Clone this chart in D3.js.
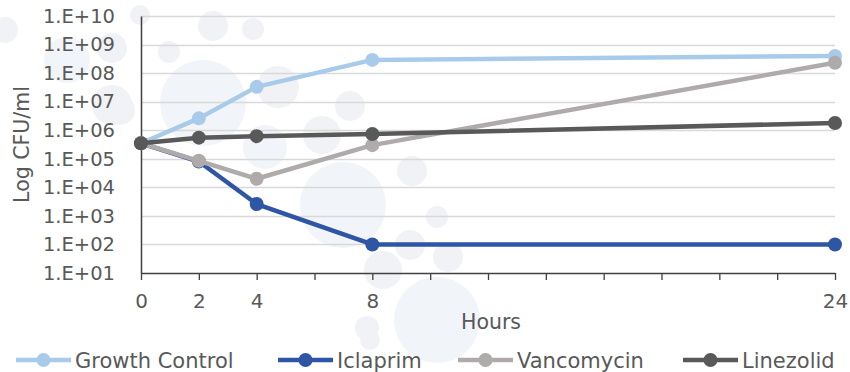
<!DOCTYPE html>
<html>
<head>
<meta charset="utf-8">
<script src="https://cdn.jsdelivr.net/npm/d3@7"></script>
<style>
  html, body { margin: 0; padding: 0; background: #fff; }
  svg { display: block; font-family: "DejaVu Sans", sans-serif; }
</style>
</head>
<body>
<svg id="chart" width="850" height="372"></svg>
<script>
// ---- data ----
const hours = [0, 2, 4, 8, 24];
const growthControl = [3.5e5, 2.6e6, 3.3e7, 2.9e8, 4.0e8];
const iclaprim      = [3.5e5, 8.0e4, 2.6e3, 1.0e2, 1.0e2];
const vancomycin    = [3.5e5, 8.5e4, 2.0e4, 3.0e5, 2.3e8];
const linezolid     = [3.5e5, 5.5e5, 6.2e5, 7.4e5, 1.8e6];
const seriesNames   = ["Growth Control", "Iclaprim", "Vancomycin", "Linezolid"];
const seriesColors  = ["#A9CBEA", "#2F55A5", "#AFABAB", "#595959"];
const yTickValues   = [1e1, 1e2, 1e3, 1e4, 1e5, 1e6, 1e7, 1e8, 1e9, 1e10];
const yTickLabels   = ["1.E+01","1.E+02","1.E+03","1.E+04","1.E+05","1.E+06","1.E+07","1.E+08","1.E+09","1.E+10"];
const xMinorTicks   = [0, 2, 4, 6, 8, 10, 12, 14, 16, 18, 20, 22, 24];
const xLabelTicks   = [0, 2, 4, 8, 24];
// decorative background bubbles [cx, cy, r, tone]
const bubbles = [
  [5,30,13,0],[67,60,23,1],[112,48,15,0],[112,105,20,0],[140,15,10,0],[120,110,15,0],
  [213,26,15,0],[253,29,11,0],[169,52,11,0],[203,103,43,1],[278,87,21,0],[350,106,15,0],
  [265,147,22,1],[322,135,19,0],[412,171,15,0],[343,205,43,1],[437,217,11,0],
  [410,245,15,0],[383,270,19,0],[448,257,15,0],[367,328,12,0],[437,320,43,1],[370,340,10,0]
];

const series = seriesNames.map((name, i) => ({
  name, color: seriesColors[i],
  values: [growthControl, iclaprim, vancomycin, linezolid][i].map((v, j) => ({x: hours[j], y: v}))
}));

const svg = d3.select("#chart");
const margin = {left: 141, right: 15, top: 16, bottom: 99};
const W = 850, H = 372;

// background bubbles
svg.append("g").selectAll("circle").data(bubbles).join("circle")
  .attr("cx", d => d[0]).attr("cy", d => d[1]).attr("r", d => d[2])
  .attr("fill", d => d[3] ? "#F1F4F8" : "#F1F2F5");

const x = d3.scaleLinear().domain([0, 24]).range([margin.left, W - margin.right]);
const y = d3.scaleLog().domain([1e1, 1e10]).range([H - margin.bottom, margin.top]);

// gridlines
svg.append("g").selectAll("line").data(yTickValues.slice(1)).join("line")
  .attr("x1", x(0)).attr("x2", x(24))
  .attr("y1", d => Math.round(y(d)) + 0.5).attr("y2", d => Math.round(y(d)) + 0.5)
  .attr("stroke", "#D9D9D9").attr("stroke-width", 1.3);

// y axis
const yAxis = d3.axisLeft(y).tickValues(yTickValues)
  .tickFormat((d, i) => yTickLabels[i]).tickSize(0).tickPadding(26);
const gy = svg.append("g").attr("transform", `translate(${x(0)},0)`).call(yAxis);
gy.select(".domain").attr("stroke", "#404040").attr("stroke-width", 1.5);
gy.selectAll("text").attr("font-size", 19.5).attr("fill", "#595959")
  .attr("font-family", "DejaVu Sans, sans-serif");

// x axis
const xAxis = d3.axisBottom(x).tickValues(xMinorTicks)
  .tickFormat(d => xLabelTicks.includes(d) ? d : "").tickSize(7).tickPadding(14).tickSizeOuter(0);
const gx = svg.append("g").attr("transform", `translate(0,${y(1e1)})`).call(xAxis);
gx.select(".domain").attr("stroke", "#404040").attr("stroke-width", 1.5);
gx.selectAll(".tick line").attr("stroke", "#404040").attr("stroke-width", 1.3);
gx.selectAll("text").attr("font-size", 20).attr("fill", "#595959")
  .attr("font-family", "DejaVu Sans, sans-serif");

// axis titles
svg.append("text").attr("x", 491).attr("y", 329).attr("text-anchor", "middle")
  .attr("font-size", 20.5).attr("fill", "#595959").text("Hours");
svg.append("text").attr("transform", `translate(29,${(y(1e1)+y(1e10))/2}) rotate(-90)`)
  .attr("text-anchor", "middle").attr("font-size", 20.5).attr("fill", "#595959").text("Log CFU/ml");

// lines
const line = d3.line().x(d => x(d.x)).y(d => y(d.y));
const gs = svg.append("g").selectAll("g").data(series).join("g");
gs.append("path").attr("d", d => line(d.values)).attr("fill", "none")
  .attr("stroke", d => d.color).attr("stroke-width", 4.5).attr("stroke-linejoin", "round");
gs.selectAll("circle").data(d => d.values.map(v => ({...v, color: d.color}))).join("circle")
  .attr("cx", d => x(d.x)).attr("cy", d => y(d.y)).attr("r", 7).attr("fill", d => d.color);

// legend
const legendX = [16, 278, 458, 683];
const lg = svg.append("g").selectAll("g").data(series).join("g")
  .attr("transform", (d, i) => `translate(${legendX[i]},360)`);
lg.append("line").attr("x1", 0).attr("x2", 55).attr("stroke", d => d.color).attr("stroke-width", 4.5);
lg.append("circle").attr("cx", 27.5).attr("r", 7).attr("fill", d => d.color);
lg.append("text").attr("x", 59).attr("y", 7.5).attr("font-size", 21).attr("fill", "#595959").text(d => d.name);
</script>
</body>
</html>
